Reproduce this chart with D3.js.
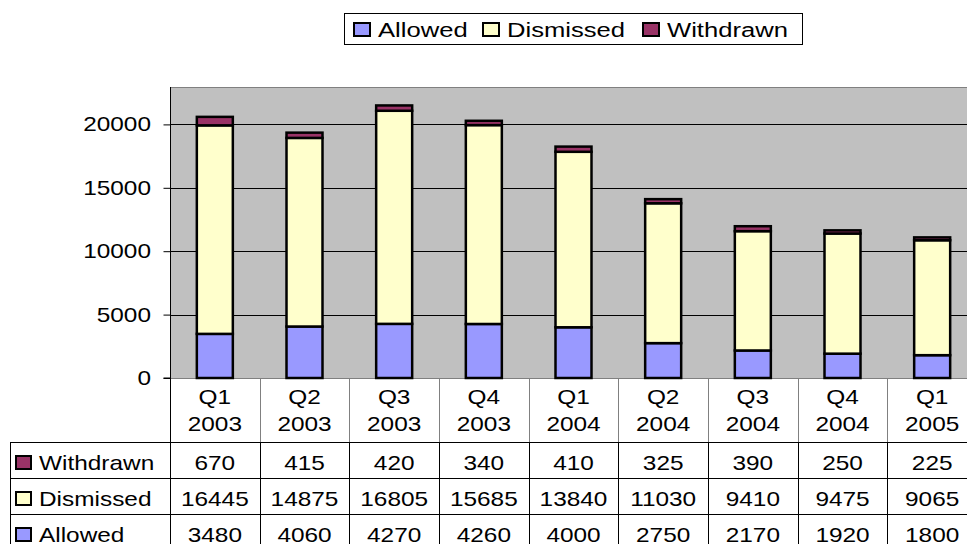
<!DOCTYPE html>
<html>
<head>
<meta charset="UTF-8">
<title>Appeals by quarter</title>
<style>
body { margin: 0; background: #fff; }
text { font-family: "Liberation Sans", Arial, sans-serif; fill: #000; }
.tick text { font-size: 20px; }
.cell { font-size: 20px; }
</style>
</head>
<body>
<div class="chart"></div>
<script src="https://cdn.jsdelivr.net/npm/d3@7/dist/d3.min.js"></script>
<script>
const quarters = ['Q1', 'Q2', 'Q3', 'Q4', 'Q1', 'Q2', 'Q3', 'Q4', 'Q1'];
const years = ['2003', '2003', '2003', '2003', '2004', '2004', '2004', '2004', '2005'];
const allowed = [3480, 4060, 4270, 4260, 4000, 2750, 2170, 1920, 1800];
const dismissed = [16445, 14875, 16805, 15685, 13840, 11030, 9410, 9475, 9065];
const withdrawn = [670, 415, 420, 340, 410, 325, 390, 250, 225];
const yTicks = [0, 5000, 10000, 15000, 20000];

const seriesNames = ['Allowed', 'Dismissed', 'Withdrawn'];
const colors = {Allowed: '#9999ff', Dismissed: '#ffffcc', Withdrawn: '#993366'};

let width = 967, height = 544;
let plotLeft = 170, plotRight = 977, plotTop = 87, plotBottom = 378;
let stretch = 1.22; // the picture's text is a little wider than plain Arial

let svg = d3.select('.chart').append('svg')
    .attr('width', width)
    .attr('height', height);

let keys = quarters.map((q, i) => q + ' ' + years[i]);
let rows = keys.map((k, i) => ({key: k, Allowed: allowed[i], Dismissed: dismissed[i], Withdrawn: withdrawn[i]}));

let x = d3.scaleBand().domain(keys).range([plotLeft, plotRight]);
let y = d3.scaleLinear().domain([0, 22950]).range([plotBottom, plotTop]);

function label(g, tx, ty, s, anchor, size) {
    return g.append('text')
        .attr('transform', `translate(${tx},${ty}) scale(${stretch},1)`)
        .attr('text-anchor', anchor || 'start')
        .style('font-size', (size || 20) + 'px')
        .text(s);
}

// plot area
svg.append('rect')
    .attr('x', plotLeft + 0.5).attr('y', plotTop + 0.5)
    .attr('width', plotRight - plotLeft).attr('height', plotBottom - plotTop)
    .attr('fill', '#c0c0c0')
    .attr('stroke', '#808080');

// gridlines
svg.append('g')
    .selectAll('line')
    .data(yTicks.slice(1))
    .join('line')
    .attr('x1', plotLeft).attr('x2', plotRight)
    .attr('y1', d => Math.round(y(d)) + 0.5).attr('y2', d => Math.round(y(d)) + 0.5)
    .attr('stroke', '#000');

let yAxis = d3.axisLeft(y).tickValues(yTicks).tickSize(7).tickPadding(9).tickFormat(d3.format('d'));
svg.append('g')
    .attr('transform', `translate(${plotLeft + 0.5},0)`)
    .call(yAxis)
    .call(g => g.select('.domain').attr('stroke', '#000').attr('d', `M-7,${plotBottom}H0V${plotTop}`))
    .call(g => g.selectAll('.tick line').attr('stroke', '#000'))
    .call(g => g.selectAll('.tick text').attr('transform', `scale(${stretch},1)`));

// stacked bars
let stack = d3.stack().keys(seriesNames)(rows);
let barW = 36;
svg.append('g')
    .selectAll('g')
    .data(stack)
    .join('g')
    .attr('fill', d => colors[d.key])
    .selectAll('rect')
    .data(d => d)
    .join('rect')
    .attr('x', d => x(d.data.key) + x.bandwidth() / 2 - barW / 2)
    .attr('width', barW)
    .attr('y', d => y(d[1]))
    .attr('height', d => y(d[0]) - y(d[1]))
    .attr('stroke', '#000')
    .attr('stroke-width', 2.5);

// data table
let headBottom = 442, rowH = 36, tableLeft = 10;
let tableRows = [
    {name: 'Withdrawn', values: withdrawn},
    {name: 'Dismissed', values: dismissed},
    {name: 'Allowed', values: allowed}
];
let table = svg.append('g');

// header labels
keys.forEach((k, i) => {
    let cx = x(k) + x.bandwidth() / 2;
    label(table, cx, 404, quarters[i], 'middle');
    label(table, cx, 431, years[i], 'middle');
});

// vertical lines
keys.forEach((k, i) => {
    let xx = Math.round(x(k)) + 0.5;
    table.append('line').attr('x1', xx).attr('x2', xx)
        .attr('y1', plotBottom).attr('y2', headBottom)
        .attr('stroke', i > 0 ? '#808080' : '#000');
    table.append('line').attr('x1', xx).attr('x2', xx)
        .attr('y1', headBottom).attr('y2', height).attr('stroke', '#000');
});
table.append('line').attr('x1', tableLeft + 0.5).attr('x2', tableLeft + 0.5)
    .attr('y1', headBottom).attr('y2', height).attr('stroke', '#000');

// horizontal lines and cells
tableRows.forEach((r, ri) => {
    let y0 = headBottom + ri * rowH;
    table.append('line').attr('x1', tableLeft).attr('x2', plotRight)
        .attr('y1', y0 + 0.5).attr('y2', y0 + 0.5).attr('stroke', '#000');
    table.append('rect').attr('x', 16).attr('y', y0 + 14)
        .attr('width', 15).attr('height', 13)
        .attr('fill', colors[r.name]).attr('stroke', '#000').attr('stroke-width', 2);
    label(table, 39, y0 + 28, r.name);
    r.values.forEach((v, i) => {
        label(table, x(keys[i]) + x.bandwidth() / 2, y0 + 28, v, 'middle');
    });
});
table.append('line').attr('x1', tableLeft).attr('x2', plotRight)
    .attr('y1', headBottom + 3 * rowH + 0.5).attr('y2', headBottom + 3 * rowH + 0.5).attr('stroke', '#000');

// legend
let legend = svg.append('g');
legend.append('rect').attr('x', 344.5).attr('y', 13.5).attr('width', 458).attr('height', 31)
    .attr('fill', '#fff').attr('stroke', '#000');
let legendX = [354, 483, 643];
seriesNames.forEach((n, i) => {
    legend.append('rect').attr('x', legendX[i]).attr('y', 23)
        .attr('width', 16).attr('height', 13)
        .attr('fill', colors[n]).attr('stroke', '#000').attr('stroke-width', 2);
    label(legend, legendX[i] + 24, 37, n, 'start', 21);
});
</script>
</body>
</html>
